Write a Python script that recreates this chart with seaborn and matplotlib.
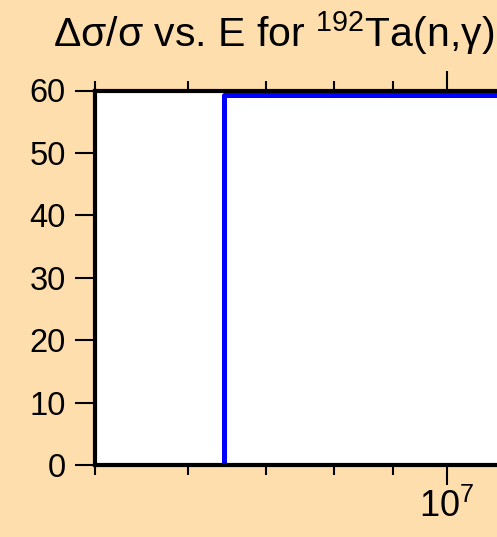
import matplotlib
matplotlib.use("Agg")
import matplotlib.pyplot as plt
import matplotlib.ticker as mticker
import seaborn as sns
import pandas as pd

# Data
energy = [6.44e6, 6.44e6, 1.5e7]          # eV
rel_uncertainty = [0.0, 59.2, 59.2]       # Δσ/σ (%)
y_ticks = [0, 10, 20, 30, 40, 50, 60]
title = "Δσ/σ vs. E for $\\mathregular{^{192}}$Ta(n,γ)"

df = pd.DataFrame({"E": energy, "dsig": rel_uncertainty})

sns.set_style("ticks")
plt.rcParams["font.family"] = ["Liberation Sans", "DejaVu Sans"]
plt.rcParams["mathtext.fontset"] = "custom"
plt.rcParams["mathtext.rm"] = "Liberation Sans"
plt.rcParams["mathtext.it"] = "Liberation Sans:italic"

bg = "#FFDEAD"
fig = plt.figure(figsize=(4.97, 5.37), dpi=100, facecolor=bg)
W, H = 497.0, 537.0
left, right, top, bottom = 95.3, 560.0, 90.5, 465.0
ax = fig.add_axes([left / W, (H - bottom) / H, (right - left) / W, (bottom - top) / H])
ax.set_facecolor("white")

sns.lineplot(data=df, x="E", y="dsig", ax=ax, estimator=None, sort=False,
             color="#0000FF", linewidth=3.6)

ax.set_xscale("log")
ax.set_xlim(5e6, 1.25e7)
ax.set_ylim(0, 60)
ax.set_yticks(y_ticks)
ax.xaxis.set_minor_formatter(mticker.NullFormatter())
ax.set_xlabel("")
ax.set_ylabel("")

for side in ["left", "bottom", "top", "right"]:
    ax.spines[side].set_visible(True)
    ax.spines[side].set_linewidth(3.0)
    ax.spines[side].set_color("black")
    ax.spines[side].set_zorder(3)

ax.tick_params(axis="both", which="major", direction="out", length=14.4, width=1.5,
               color="black", labelsize=23.5, labelcolor="black", pad=7)
ax.tick_params(axis="both", which="minor", direction="out", length=7.2, width=1.5,
               color="black")
ax.tick_params(axis="x", which="both", top=True, labeltop=False, bottom=True)
ax.tick_params(axis="x", which="major", pad=2.5, labelsize=26)
ax.tick_params(axis="y", which="minor", left=False)

fig.text(53.3 / W, 1 - 46.7 / H, title, ha="left", va="baseline",
         fontsize=29.5, color="black")

fig.savefig("out.png", dpi=100, facecolor=bg)
